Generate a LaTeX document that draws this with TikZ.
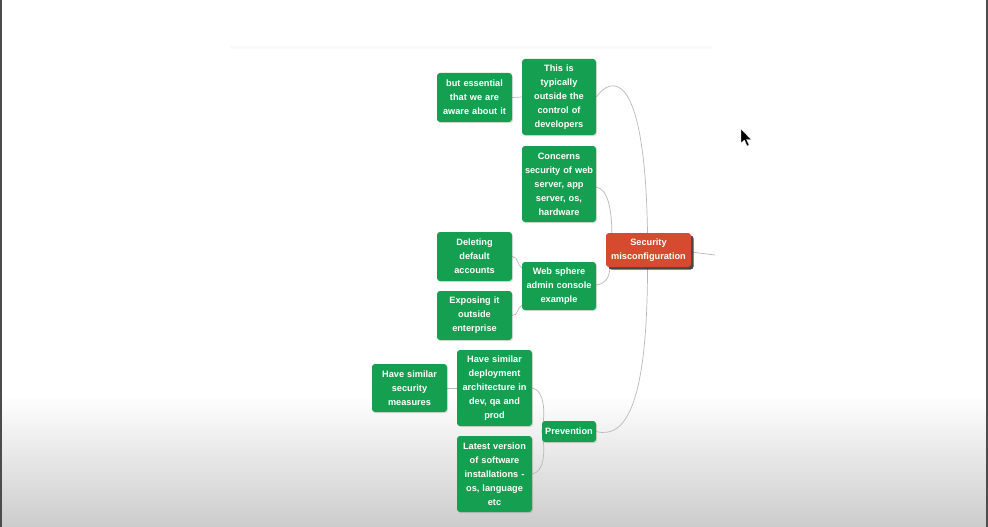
\documentclass[tikz,border=0pt]{standalone}
\usepackage{fontspec}
\setmainfont{Liberation Sans}
\usetikzlibrary{shadows,calc}
\definecolor{mmgreen}{RGB}{20,160,80}
\definecolor{mmred}{RGB}{214,74,48}
\definecolor{edgegray}{RGB}{185,185,185}
\pgfdeclarelayer{back}
\pgfdeclarelayer{edges}
\pgfsetlayers{back,edges,main}
\begin{document}
\begin{tikzpicture}[x=1pt,y=-1pt,
  box/.style={draw=none, rounded corners=3pt, inner xsep=2pt, inner ysep=0pt,
    align=center, text=white, font=\bfseries\fontsize{9.2}{14}\selectfont},
  gbox/.style={box, fill=mmgreen,
    drop shadow={shadow xshift=1pt, shadow yshift=-1.2pt, opacity=0.25}},
  rbox/.style={box, fill=mmred,
    drop shadow={shadow xshift=2.5pt, shadow yshift=-2.5pt, fill=black!80, opacity=0.9}},
  dim/.style 2 args={text width=#1, minimum height=#2},
  link/.style={draw=edgegray, line width=0.7pt},
  ]
\useasboundingbox (0,0) rectangle (988,527);

% nodes
\node[gbox, dim={71pt}{49pt}] (ess) at (474.5,97.5) {but essential\\that we are\\aware about it};
\node[gbox, dim={70pt}{76pt}] (typ) at (559,97) {This is\\typically\\outside the\\control of\\developers};
\node[gbox, dim={70pt}{76pt}] (con) at (559,184) {Concerns\\security of web\\server, app\\server, os,\\hardware};
\node[rbox, dim={81pt}{34pt}] (sec) at (648.5,250) {Security\\misconfiguration};
\node[gbox, dim={71pt}{49pt}] (del) at (474.5,256.5) {Deleting\\default\\accounts};
\node[gbox, dim={70pt}{48pt}] (web) at (559,286) {Web sphere\\admin console\\example};
\node[gbox, dim={71pt}{49pt}] (exp) at (474.5,315.5) {Exposing it\\outside\\enterprise};
\node[gbox, dim={71pt}{48pt}] (sim) at (409.5,388) {Have similar\\security\\measures};
\node[gbox, dim={71pt}{76pt}] (dep) at (494.5,388) {Have similar\\deployment\\architecture in\\dev, qa and\\prod};
\node[gbox, dim={50pt}{21pt}] (pre) at (569,431.5) {Prevention};
\node[gbox, dim={71pt}{76pt}] (lat) at (494.5,474) {Latest version\\of software\\installations -\\os, language\\etc};
\coordinate (stubend) at (715,255);

% background
\begin{pgfonlayer}{back}
\fill[white] (0,0) rectangle (988,527);
\shade[top color=white, bottom color=black!20] (0,395) rectangle (988,527);
\fill[black!70] (0,0) rectangle (2,527);
\fill[black!70] (986,0) rectangle (988,527);
\fill[black!2] (230,46) rectangle (712,49);
\end{pgfonlayer}

% connectors
\begin{pgfonlayer}{edges}
\draw[link] (ess.east) -- (typ.west);
\draw[link] ([xshift=-1pt]sec.north) .. controls +(-2.5,-163) and +(16,-22) .. (typ.east);
\draw[link] ([yshift=-3pt]con.east) .. controls +(12,2) and +(0,-22) .. ([xshift=6pt]sec.north west);
\draw[link] ([yshift=1pt]web.east) .. controls +(9,-1) and +(0,10) .. ([xshift=4pt]sec.south west);
\draw[link] ([xshift=-1pt]sec.south) .. controls +(0,135) and +(30,8) .. (pre.east);
\draw[link] (del.east) .. controls +(6,0) and +(-5,-3) .. ([yshift=-6pt]web.north west);
\draw[link] (exp.east) .. controls +(6,0) and +(-5,3) .. ([yshift=5pt]web.south west);
\draw[link] (sim.east) -- (dep.west);
\draw[link] (dep.east) .. controls +(12,2) and +(4,-20) .. (pre.west);
\draw[link] (lat.east) .. controls +(12,-2) and +(4,20) .. (pre.west);
\draw[link] ([yshift=-2pt]sec.east) -- (stubend);
\end{pgfonlayer}

% mouse pointer
\fill[black, draw=white, line width=0.3pt] (741,129) -- (741,143) -- (744.5,140) -- (747,146) -- (749,145) -- (746.5,139.5) -- (751,139.5) -- cycle;
\end{tikzpicture}
\end{document}
